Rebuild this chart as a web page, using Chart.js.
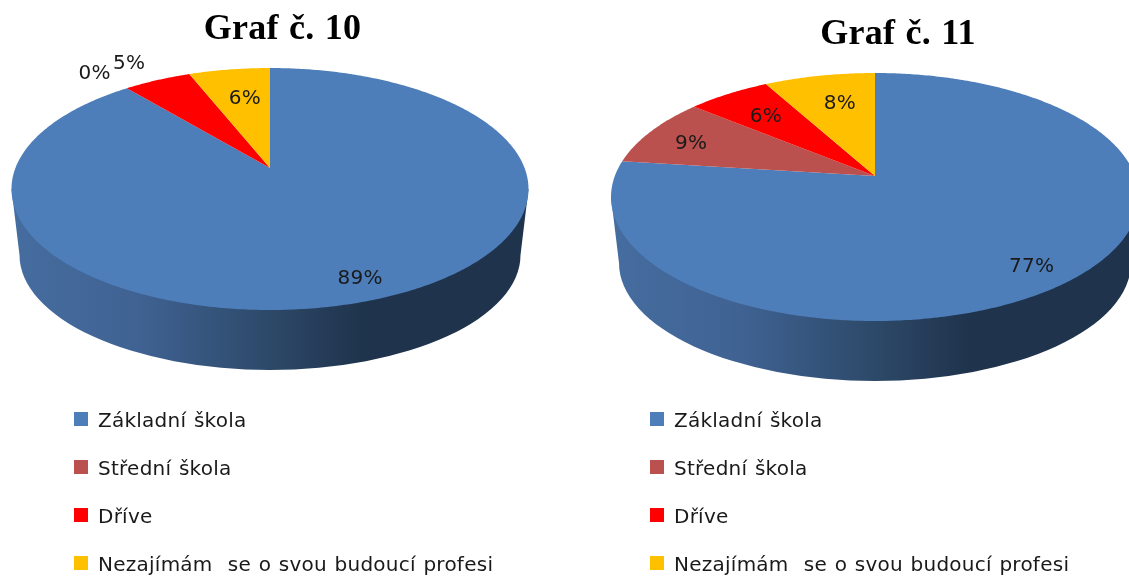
<!DOCTYPE html>
<html>
<head>
<meta charset="utf-8">
<script src="https://cdn.jsdelivr.net/npm/chart.js@4"></script>
<style>
html,body{margin:0;padding:0;background:#fff;width:1129px;height:576px;overflow:hidden;position:relative}
canvas{position:absolute;top:0;filter:blur(0.35px)}
</style>
</head>
<body>
<canvas id="c10" width="565" height="576" style="left:0"></canvas>
<canvas id="c11" width="602" height="576" style="left:597px"></canvas>
<script>
const categories = ['Základní škola', 'Střední škola', 'Dříve', 'Nezajímám  se o svou budoucí profesi'];
const values10 = [89, 0, 5, 6];
const values11 = [77, 9, 6, 8];
const sliceColors = ['#4E7EB9', '#BA514E', '#FF0000', '#FFC000'];
const FONT = '"DejaVu Sans"';

// Legend swatch: square sits 3px above the text's mid line, as in the reference.
function swatch(color) {
  const c = document.createElement('canvas');
  c.width = 14; c.height = 20;
  const x = c.getContext('2d');
  x.fillStyle = color;
  x.fillRect(0, 0, 14, 14);
  return c;
}

// Draws the tilted 3D pie from the library's own arc elements (their angles come from the data).
const pie3d = {
  id: 'pie3d',
  beforeDraw(chart) {
    chart.ctx.letterSpacing = '0.25px';
    chart.ctx.wordSpacing = '1px';
  },
  beforeDatasetsDraw(chart, args, o) {
    const ctx = chart.ctx, arcs = chart.getDatasetMeta(0).data, vals = chart.data.datasets[0].data;
    const k = (o.up - o.down) / (o.up + o.down);
    const B = o.up * (1 - k), A = o.rx * Math.sqrt(1 - k * k);
    const project = (angle, r) => {
      const u = r * Math.cos(angle), v = r * Math.sin(angle), w = 1 + k * v;
      return [o.cx + A * u / w, o.cy + B * v / w];
    };
    const midY = o.cy + (o.down - o.up) / 2, ry = (o.up + o.down) / 2;

    // side wall
    const g = ctx.createLinearGradient(o.cx - o.rx, 0, o.cx + o.rx, 0);
    g.addColorStop(0, '#466DA0');
    g.addColorStop(0.25, '#3F6292');
    g.addColorStop(0.5, '#2D4969');
    g.addColorStop(0.68, '#1F334C');
    g.addColorStop(1, '#1F334C');
    ctx.save();
    ctx.beginPath();
    ctx.moveTo(o.cx - o.rx, midY);
    ctx.lineTo(o.cx - o.rx + o.inset, midY + o.wallDrop);
    ctx.ellipse(o.cx, midY + o.wallDrop, o.rx - o.inset, ry - o.inset * 0.75, 0, Math.PI, 0, true);
    ctx.lineTo(o.cx + o.rx, midY);
    ctx.closePath();
    ctx.fillStyle = g;
    ctx.fill();

    // top face
    arcs.forEach((arc, i) => {
      if (!vals[i]) return;
      const p = arc.getProps(['startAngle', 'endAngle'], true);
      ctx.beginPath();
      ctx.moveTo(o.cx, o.cy);
      const n = Math.max(2, Math.ceil((p.endAngle - p.startAngle) * 90));
      for (let j = 0; j <= n; j++) {
        const [x, y] = project(p.startAngle + (p.endAngle - p.startAngle) * j / n, 1);
        ctx.lineTo(x, y);
      }
      ctx.closePath();
      ctx.fillStyle = sliceColors[i];
      ctx.fill();
    });

    // percentage labels
    ctx.font = '20px ' + FONT;
    ctx.fillStyle = '#1a1a1a';
    ctx.textAlign = 'center';
    ctx.textBaseline = 'middle';
    arcs.forEach((arc, i) => {
      const p = arc.getProps(['startAngle', 'endAngle'], true);
      const [x, y] = project((p.startAngle + p.endAngle) / 2, o.labelR[i]);
      ctx.fillText(vals[i] + '%', x + o.labelDx[i], y + 1.5);
    });
    ctx.restore();
    return false;
  },
  afterLayout(chart, args, o) {
    const l = chart.legend, pad = chart.options.plugins.legend.labels.padding;
    l.left = o.legendX - pad;
    l.top = o.legendY - pad;
    l.right = chart.width;
    l.bottom = 3000;
    l.width = l.right - l.left;
    l.height = l.bottom - l.top;
  }
};

function makePie(id, title, values, titleTop, geom) {
  return new Chart(document.getElementById(id), {
    type: 'pie',
    data: { labels: categories, datasets: [{ data: values, backgroundColor: sliceColors, borderWidth: 0 }] },
    plugins: [pie3d],
    options: {
      responsive: false,
      animation: false,
      layout: { padding: 0 },
      plugins: {
        tooltip: { enabled: false },
        title: {
          display: true, text: title, color: '#000', align: 'center',
          font: { family: '"Liberation Serif"', size: 36, weight: 'bold', lineHeight: 1.1 },
          padding: { top: titleTop, bottom: 0 }
        },
        legend: {
          display: true, position: 'left', align: 'start',
          labels: {
            boxWidth: 14, boxHeight: 14, padding: 28, color: '#1a1a1a', usePointStyle: true,
            font: { family: FONT, size: 20 },
            generateLabels(chart) {
              const items = Chart.overrides.pie.plugins.legend.labels.generateLabels(chart);
              items.forEach((it, i) => { it.pointStyle = swatch(sliceColors[i]); it.hidden = false; });
              return items;
            }
          }
        },
        pie3d: geom
      }
    }
  });
}

makePie('c10', 'Graf č. 10', values10, 10, {
  cx: 270, cy: 168, rx: 258.5, up: 100, down: 142, wallDrop: 66, inset: 8,
  labelR: [0.85, 1.238, 1.243, 0.68], labelDx: [5, -3, -5, 4],
  legendX: 74, legendY: 412
});
makePie('c11', 'Graf č. 11', values11, 15, {
  cx: 278, cy: 176, rx: 264, up: 103, down: 145, wallDrop: 66, inset: 8,
  labelR: [0.876, 0.747, 0.72, 0.708], labelDx: [-13, -14, 0, 6],
  legendX: 53, legendY: 412
});
</script>
</body>
</html>
